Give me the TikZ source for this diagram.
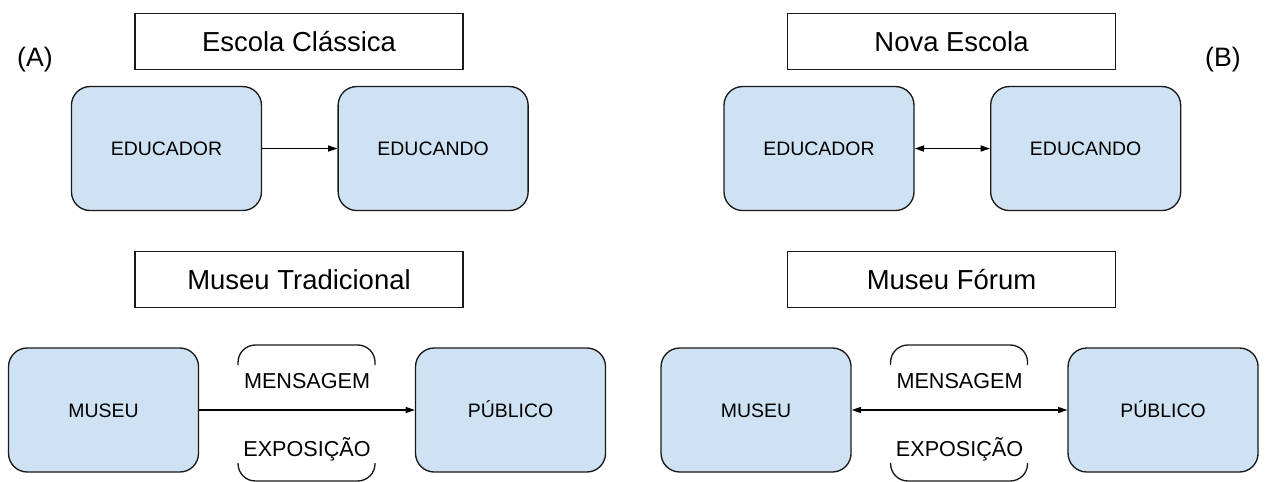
\documentclass[tikz,border=0pt]{standalone}
\usepackage{fontspec}
\setmainfont{Liberation Sans}
\usetikzlibrary{positioning, arrows.meta, calc}
\definecolor{boxblue}{HTML}{CFE2F3}

\begin{document}
\begin{tikzpicture}
[
    on grid, >={Triangle[length=7pt, width=4.5pt]},
    title_node/.style={rectangle, draw=black!90, line width=1pt, minimum width=246pt, minimum height=42pt, font=\fontsize{20.6}{24}\selectfont},
    blue_node/.style={rectangle, rounded corners=14pt, draw=black!90, fill=boxblue, line width=1pt, minimum width=142.5pt, minimum height=93pt, text height=10.5pt, text depth=0pt, font=\fontsize{14.6}{17}\selectfont},
    msg_node/.style={inner sep=0pt, text height=11.6pt, text depth=0pt, font=\fontsize{16.2}{19}\selectfont},
    tag_node/.style={font=\fontsize{20}{24}\selectfont},
    brace_line/.style={line width=1pt, color=black!90, rounded corners=13pt},
]
    \useasboundingbox (0,0) rectangle (948.75pt,-361.5pt) ;
    % (A)
    \node[title_node] (escola) at (224.25pt,-31pt) {Escola Clássica} ;
    \node[tag_node] (tagA) [below left = 13.4pt and 198pt of escola] {(A)} ;
    \node[blue_node] (educadorA) [below left = 80.4pt and 99.4pt of escola] {EDUCADOR} ;
    \node[blue_node] (educandoA) [right = 200pt of educadorA] {EDUCANDO} ;
    \node[title_node] (tradicional) [below = 178.5pt of escola] {Museu Tradicional} ;
    \node[blue_node] (museuA) [below left = 98pt and 146.6pt of tradicional] {MUSEU} ;
    \node[blue_node] (publicoA) [right = 305.25pt of museuA] {PÚBLICO} ;
    \coordinate (midA) at ($(museuA.east)!0.5!(publicoA.west)$) ;
    \node[msg_node] (mensA) [above = 16pt of midA] {MENSAGEM} ;
    \node[msg_node] (exposA) [below = 23.25pt of midA] {EXPOSIÇÃO} ;
    % (B)
    \node[title_node] (nova) [right = 489.4pt of escola] {Nova Escola} ;
    \node[tag_node] (tagB) [below right = 13.4pt and 203.6pt of nova] {(B)} ;
    \node[blue_node] (educadorB) [below left = 80.4pt and 99.4pt of nova] {EDUCADOR} ;
    \node[blue_node] (educandoB) [right = 200pt of educadorB] {EDUCANDO} ;
    \node[title_node] (forum) [below = 178.5pt of nova] {Museu Fórum} ;
    \node[blue_node] (museuB) [below left = 98pt and 146.6pt of forum] {MUSEU} ;
    \node[blue_node] (publicoB) [right = 305.25pt of museuB] {PÚBLICO} ;
    \coordinate (midB) at ($(museuB.east)!0.5!(publicoB.west)$) ;
    \node[msg_node] (mensB) [above = 16pt of midB] {MENSAGEM} ;
    \node[msg_node] (exposB) [below = 23.25pt of midB] {EXPOSIÇÃO} ;
    % arrows
    \draw[->, line width=1pt, color=black] (educadorA) -- (educandoA) ;
    \draw[<->, line width=1pt, color=black] (educadorB) -- (educandoB) ;
    \draw[->, line width=1pt, color=black] (museuA) -- (publicoA) ;
    \draw[<->, line width=1pt, color=black] (museuB) -- (publicoB) ;
    % open brackets round the message
    \draw[brace_line] ($(midA)+(-51.75pt,33.75pt)$) |- ($(midA)+(0,48.75pt)$) -| ($(midA)+(51pt,33.75pt)$) ;
    \draw[brace_line] ($(midA)+(-51.75pt,-39.75pt)$) |- ($(midA)+(0,-53.25pt)$) -| ($(midA)+(51pt,-39.75pt)$) ;
    \draw[brace_line] ($(midB)+(-51.75pt,33.75pt)$) |- ($(midB)+(0,48.75pt)$) -| ($(midB)+(51pt,33.75pt)$) ;
    \draw[brace_line] ($(midB)+(-51.75pt,-39.75pt)$) |- ($(midB)+(0,-53.25pt)$) -| ($(midB)+(51pt,-39.75pt)$) ;
\end{tikzpicture}
\end{document}
